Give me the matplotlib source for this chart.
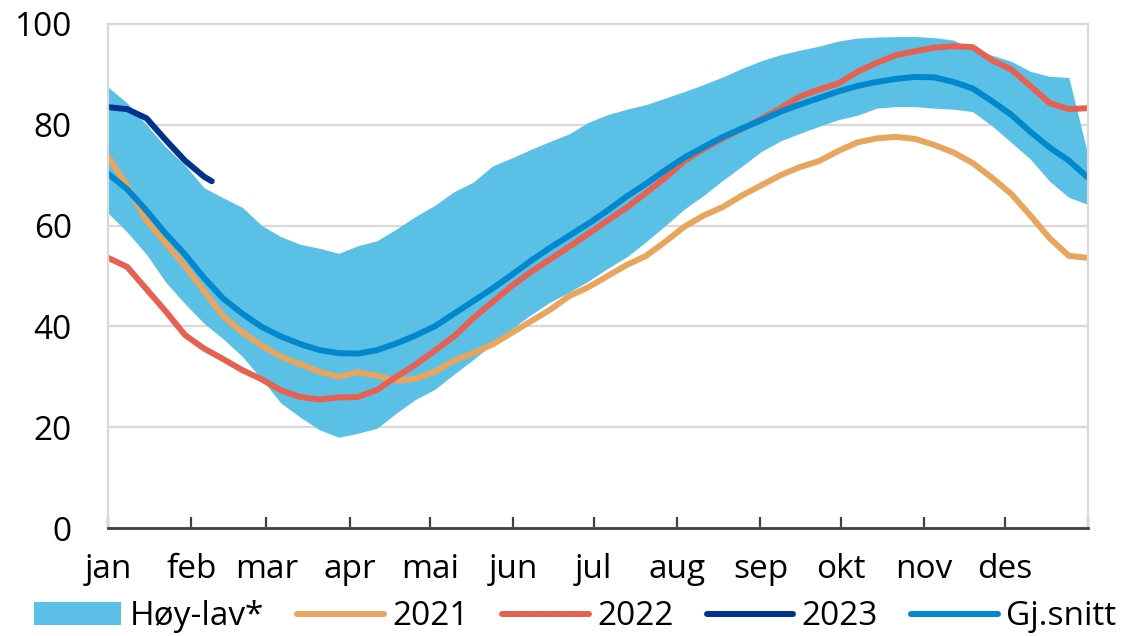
import matplotlib
matplotlib.use("Agg")
import matplotlib.pyplot as plt
import numpy as np

plt.rcParams['font.family'] = ['Open Sans', 'DejaVu Sans']

# weekly values (week 1..52), fill level in percent
weeks = list(range(1, 53))

band_high = [87.5, 84.3, 80.0, 75.6, 72.0, 67.5, 65.5, 63.6, 60.0, 57.8,
             56.3, 55.5, 54.5, 56.0, 57.0, 59.3, 61.8, 64.0, 66.7, 68.6,
             71.8, 73.4, 75.1, 76.7, 78.2, 80.5, 82.0, 83.1, 84.0, 85.3,
             86.6, 88.0, 89.5, 91.2, 92.7, 93.9, 94.8, 95.6, 96.6, 97.2,
             97.4, 97.5, 97.5, 97.3, 96.8, 95.0, 93.8, 92.6, 90.6, 89.6,
             89.4, 74.0]
band_low = [62.5, 58.7, 54.3, 48.8, 44.5, 40.6, 37.5, 34.0, 29.5, 24.8,
            22.0, 19.5, 18.0, 18.8, 19.8, 22.8, 25.5, 27.5, 30.5, 33.4,
            36.5, 39.5, 42.3, 44.8, 46.8, 49.0, 51.5, 53.8, 56.8, 60.0,
            63.3, 66.0, 69.0, 71.8, 74.7, 76.8, 78.3, 79.7, 81.0, 81.9,
            83.3, 83.6, 83.6, 83.3, 83.1, 82.6, 79.8, 76.5, 73.2, 68.8,
            65.6, 64.2]

y2021 = [73.7, 67.9, 61.0, 56.5, 52.0, 47.0, 42.0, 38.8, 36.2, 34.0,
         32.5, 31.0, 30.0, 30.9, 30.2, 29.2, 29.6, 31.0, 33.2, 34.7,
         36.4, 38.7, 41.0, 43.3, 46.0, 47.8, 50.0, 52.2, 54.0, 56.8,
         59.8, 62.0, 63.7, 66.0, 68.0, 70.0, 71.6, 72.8, 74.8, 76.5,
         77.3, 77.6, 77.2, 76.0, 74.5, 72.4, 69.5, 66.3, 62.0, 57.5,
         54.0, 53.6]

y2022 = [53.6, 51.8, 47.4, 43.0, 38.3, 35.6, 33.5, 31.3, 29.5, 27.3,
         26.0, 25.5, 25.9, 26.0, 27.4, 30.0, 32.4, 35.2, 38.0, 41.6,
         44.8, 48.0, 50.8, 53.3, 55.8, 58.4, 61.0, 63.6, 66.5, 69.5,
         72.8, 75.2, 77.3, 79.2, 81.2, 83.3, 85.6, 87.0, 88.2, 90.5,
         92.3, 93.8, 94.6, 95.3, 95.6, 95.4, 92.8, 91.0, 87.7, 84.3,
         83.1, 83.3]

weeks_2023 = [1, 2, 3, 4, 5, 6, 6.4]
y2023 = [83.5, 83.1, 81.3, 77.0, 72.9, 69.7, 68.8]

avg = [70.3, 67.2, 63.0, 58.4, 54.3, 49.6, 45.5, 42.5, 39.9, 38.0,
       36.5, 35.3, 34.7, 34.6, 35.3, 36.6, 38.2, 40.0, 42.5, 45.0,
       47.5, 50.2, 53.0, 55.6, 58.0, 60.4, 63.0, 65.8, 68.3, 71.0,
       73.5, 75.6, 77.6, 79.3, 80.9, 82.6, 84.0, 85.3, 86.6, 87.7,
       88.5, 89.1, 89.5, 89.4, 88.5, 87.2, 84.7, 82.0, 78.6, 75.5,
       72.9, 69.5]

months = ['jan', 'feb', 'mar', 'apr', 'mai', 'jun', 'jul', 'aug', 'sep',
          'okt', 'nov', 'des']
month_start_day = [0, 31, 59, 90, 120, 151, 181, 212, 243, 273, 304, 334, 365]

# colours
c_band = '#5BC0E5'
c_2021 = '#E8A55E'
c_2022 = '#E66152'
c_2023 = '#00338D'
c_avg = '#0088CE'

fig = plt.figure(figsize=(11.24, 6.36), dpi=100)
ax = fig.add_axes([0.0961, 0.1698, 0.8719, 0.7925])

ax.fill_between(weeks, band_low, band_high, color=c_band, lw=0, label='Høy-lav*')
ax.plot(weeks, y2021, color=c_2021, lw=4.3, label='2021', solid_capstyle='round')
ax.plot(weeks, y2022, color=c_2022, lw=4.3, label='2022', solid_capstyle='round')
ax.plot(weeks_2023, y2023, color=c_2023, lw=4.3, label='2023', solid_capstyle='round')
ax.plot(weeks, avg, color=c_avg, lw=4.3, label='Gj.snitt', solid_capstyle='round')

ax.set_xlim(1, 52)
ax.set_ylim(0, 100)

# month ticks at month start, mapped from day of year to week scale
tick_pos = [1 + d * 51 / 365 for d in month_start_day]
ax.set_xticks(tick_pos)
ax.set_xticklabels(months + [''])
ax.tick_params(axis='x', direction='in', length=8, width=1.6, color='#404040',
               labelsize=24, pad=18)
ax.set_yticks([0, 20, 40, 60, 80, 100])
ax.tick_params(axis='y', length=0, labelsize=24, pad=26)

ax.grid(axis='y', color='#D9D9D9', lw=1.6)
ax.set_axisbelow(True)
for s in ['left', 'right', 'top']:
    ax.spines[s].set_color('#D9D9D9')
    ax.spines[s].set_linewidth(1.6)
ax.spines['bottom'].set_color('#404040')
ax.spines['bottom'].set_linewidth(2)
ax.spines['bottom'].set_zorder(5)

fig.legend(loc='center', bbox_to_anchor=(0.512, 0.030), ncol=5, frameon=False,
           fontsize=24, handlelength=2.6, handletextpad=0.25, columnspacing=1.0,
           borderpad=0, borderaxespad=0)

fig.savefig('out.png', dpi=100)
